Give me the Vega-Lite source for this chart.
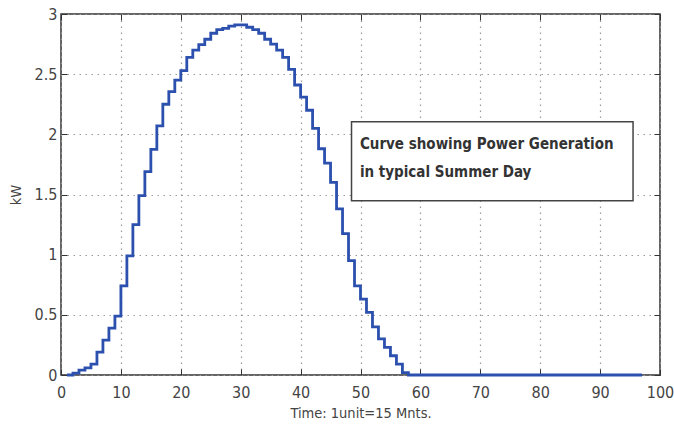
{
  "$schema": "https://vega.github.io/schema/vega-lite/v6.json",
  "width": 599,
  "height": 361,
  "autosize": {"type": "none"},
  "padding": {"left": 61, "top": 14, "right": 14, "bottom": 63},
  "background": "white",
  "config": {
    "view": {"stroke": "#333333", "strokeWidth": 1.5},
    "font": "DejaVu Sans Condensed, Liberation Sans, sans-serif",
    "axis": {
      "labelFont": "DejaVu Sans Condensed, Liberation Sans, sans-serif",
      "titleFont": "DejaVu Sans Condensed, Liberation Sans, sans-serif",
      "labelColor": "#444444",
      "titleColor": "#444444",
      "labelFontSize": 16,
      "titleFontSize": 14.5,
      "titleFontWeight": "normal",
      "tickColor": "#333333",
      "tickWidth": 1,
      "domain": false,
      "gridColor": "#9a9a9a",
      "gridDash": [1.5, 4.5],
      "gridWidth": 1.2,
      "gridOpacity": 1
    }
  },
  "data": {
    "values": [
      {"t": 1, "p": 0}, {"t": 2, "p": 0.015}, {"t": 3, "p": 0.04}, {"t": 4, "p": 0.06},
      {"t": 5, "p": 0.09}, {"t": 6, "p": 0.19}, {"t": 7, "p": 0.29}, {"t": 8, "p": 0.39},
      {"t": 9, "p": 0.49}, {"t": 10, "p": 0.74}, {"t": 11, "p": 0.99}, {"t": 12, "p": 1.25},
      {"t": 13, "p": 1.49}, {"t": 14, "p": 1.69}, {"t": 15, "p": 1.875}, {"t": 16, "p": 2.07},
      {"t": 17, "p": 2.25}, {"t": 18, "p": 2.355}, {"t": 19, "p": 2.45}, {"t": 20, "p": 2.53},
      {"t": 21, "p": 2.64}, {"t": 22, "p": 2.7}, {"t": 23, "p": 2.745}, {"t": 24, "p": 2.79},
      {"t": 25, "p": 2.84}, {"t": 26, "p": 2.87}, {"t": 27, "p": 2.88}, {"t": 28, "p": 2.9},
      {"t": 29, "p": 2.91}, {"t": 30, "p": 2.91}, {"t": 31, "p": 2.89}, {"t": 32, "p": 2.87},
      {"t": 33, "p": 2.84}, {"t": 34, "p": 2.79}, {"t": 35, "p": 2.75}, {"t": 36, "p": 2.7},
      {"t": 37, "p": 2.64}, {"t": 38, "p": 2.54}, {"t": 39, "p": 2.41}, {"t": 40, "p": 2.31},
      {"t": 41, "p": 2.2}, {"t": 42, "p": 2.05}, {"t": 43, "p": 1.88}, {"t": 44, "p": 1.76},
      {"t": 45, "p": 1.6}, {"t": 46, "p": 1.38}, {"t": 47, "p": 1.175}, {"t": 48, "p": 0.95},
      {"t": 49, "p": 0.74}, {"t": 50, "p": 0.63}, {"t": 51, "p": 0.52}, {"t": 52, "p": 0.4},
      {"t": 53, "p": 0.3}, {"t": 54, "p": 0.23}, {"t": 55, "p": 0.16}, {"t": 56, "p": 0.09},
      {"t": 57, "p": 0.02}, {"t": 58, "p": 0}, {"t": 59, "p": 0}, {"t": 60, "p": 0},
      {"t": 61, "p": 0}, {"t": 62, "p": 0}, {"t": 63, "p": 0}, {"t": 64, "p": 0},
      {"t": 65, "p": 0}, {"t": 66, "p": 0}, {"t": 67, "p": 0}, {"t": 68, "p": 0},
      {"t": 69, "p": 0}, {"t": 70, "p": 0}, {"t": 71, "p": 0}, {"t": 72, "p": 0},
      {"t": 73, "p": 0}, {"t": 74, "p": 0}, {"t": 75, "p": 0}, {"t": 76, "p": 0},
      {"t": 77, "p": 0}, {"t": 78, "p": 0}, {"t": 79, "p": 0}, {"t": 80, "p": 0},
      {"t": 81, "p": 0}, {"t": 82, "p": 0}, {"t": 83, "p": 0}, {"t": 84, "p": 0},
      {"t": 85, "p": 0}, {"t": 86, "p": 0}, {"t": 87, "p": 0}, {"t": 88, "p": 0},
      {"t": 89, "p": 0}, {"t": 90, "p": 0}, {"t": 91, "p": 0}, {"t": 92, "p": 0},
      {"t": 93, "p": 0}, {"t": 94, "p": 0}, {"t": 95, "p": 0}, {"t": 96, "p": 0},
      {"t": 97, "p": 0}
    ]
  },
  "layer": [
    {
      "mark": {"type": "line", "interpolate": "step-after", "color": "#2c50ae", "strokeWidth": 2.8},
      "encoding": {
        "x": {
          "field": "t", "type": "quantitative",
          "scale": {"domain": [0, 100], "nice": false, "zero": false},
          "axis": {"orient": "bottom", "values": [0,10,20,30,40,50,60,70,80,90,100], "grid": true, "ticks": true, "tickSize": -6, "labelPadding": 15, "title": "Time: 1unit=15 Mnts.", "titlePadding": 6, "labelFlush": false, "labelExpr": "datum.value"}
        },
        "y": {
          "field": "p", "type": "quantitative",
          "scale": {"domain": [0, 3], "nice": false},
          "axis": {"orient": "left", "values": [0,0.5,1,1.5,2,2.5,3], "grid": true, "ticks": true, "tickSize": -6, "labelPadding": 10, "title": "kW", "titlePadding": 11, "labelFlush": false, "labelExpr": "datum.value"}
        }
      }
    },
    {
      "data": {"values": [{"box": "legend"}]},
      "mark": {"type": "rect", "fill": "white", "stroke": "#444444", "strokeWidth": 1.5},
      "encoding": {
        "x": {"datum": 48.5, "type": "quantitative", "axis": {"orient": "top", "values": [0,10,20,30,40,50,60,70,80,90,100], "labels": false, "grid": false, "ticks": true, "tickSize": -6, "title": null}},
        "x2": {"datum": 95.5},
        "y": {"datum": 2.105, "type": "quantitative", "axis": {"orient": "right", "values": [0,0.5,1,1.5,2,2.5,3], "labels": false, "grid": false, "ticks": true, "tickSize": -6, "title": null}},
        "y2": {"datum": 1.448}
      }
    },
    {
      "data": {"values": [{"note": "legend"}]},
      "mark": {"type": "text", "align": "left", "baseline": "alphabetic", "fontWeight": "bold", "fontSize": 15, "color": "#333333", "lineHeight": 27.5},
      "encoding": {
        "x": {"datum": 49.9, "type": "quantitative", "axis": null},
        "y": {"datum": 1.878, "type": "quantitative", "axis": null},
        "text": {"value": ["Curve showing Power Generation", " in typical Summer Day"]}
      }
    }
  ],
  "resolve": {"axis": {"x": "independent", "y": "independent"}}
}
